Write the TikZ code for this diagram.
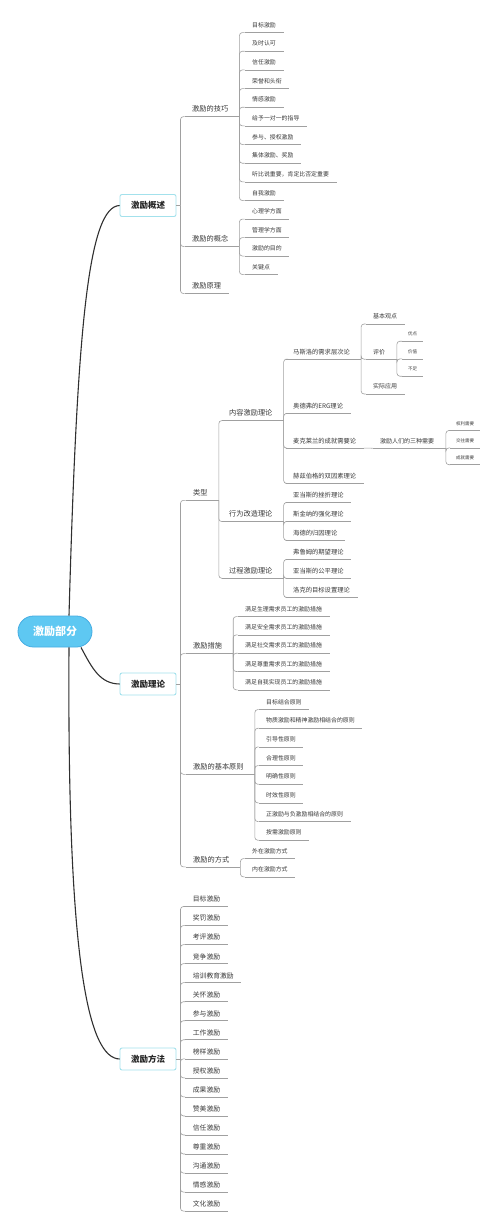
\documentclass[tikz,border=0pt]{standalone}
\usepackage{fontspec}
\setmainfont{Noto Sans CJK SC}
\definecolor{linec}{HTML}{A0A0A0}
\definecolor{txt}{HTML}{3A3A3A}
\definecolor{rootfill}{HTML}{5EC8F2}
\definecolor{rootdraw}{HTML}{45ACE2}
\definecolor{boxdraw}{HTML}{A3E1EC}
\definecolor{maincol}{HTML}{303030}
\begin{document}
\begin{tikzpicture}[x=1pt,y=-1pt,
  base/.style={anchor=west, inner xsep=7.5pt, text=txt},
  tA/.style={base, font=\fontsize{7.2}{8}\selectfont, text height=6.3pt, text depth=0.9pt, inner ysep=3.8pt},
  tM/.style={base, font=\fontsize{6.8}{8}\selectfont, text height=6pt, text depth=0.8pt, inner ysep=3.6pt},
  tB/.style={base, font=\fontsize{6.3}{7}\selectfont, text height=5.55pt, text depth=0.75pt, inner ysep=4.1pt},
  tC/.style={base, font=\fontsize{6}{7}\selectfont, text height=5.3pt, text depth=0.7pt, inner ysep=4.3pt},
  tS/.style={base, font=\fontsize{5.9}{7}\selectfont, text height=5.2pt, text depth=0.7pt, inner ysep=4.4pt},
  tD/.style={base, inner xsep=6pt, font=\fontsize{4.5}{5}\selectfont, text height=4pt, text depth=0.5pt, inner ysep=4.75pt},
  ul/.style={draw=linec, line width=0.6pt},
  br/.style={draw=linec, line width=0.6pt, rounded corners=3pt},
  mainline/.style={draw=maincol, line width=1.1pt},
  lvbox/.style={draw=boxdraw, line width=0.9pt, fill=white, rounded corners=2pt, minimum width=56pt, minimum height=22pt, inner sep=0pt, text=black!85, font=\fontsize{8.5}{10}\selectfont\bfseries},
  rootbox/.style={fill=rootfill, draw=rootdraw, line width=0.8pt, rounded corners=15.5pt, minimum width=74pt, minimum height=31pt, inner sep=0pt, text=white, font=\fontsize{11}{13}\selectfont\bfseries}
]
\fill[white] (0,0) rectangle (500,1229);
\useasboundingbox (0,0) rectangle (500,1229);

% root
\node[rootbox] (root) at (55,631.5) {激励部分};
\coordinate (b1p) at (120,205.5);
\coordinate (b2p) at (120,684);
\coordinate (b3p) at (120,1059);
\draw[mainline] ([xshift=14pt]root.north) .. controls (77,330) and (88,205.5) .. (b1p);
\draw[mainline] ([xshift=26pt]root.south) .. controls (92,668) and (100,684) .. (b2p);
\draw[mainline] ([xshift=14pt]root.south) .. controls (67,960) and (88,1059) .. (b3p);
\node[lvbox] (b1) at (148,205.5) {激励概述};
\node[lvbox] (b2) at (148,684) {激励理论};
\node[lvbox] (b3) at (148,1059) {激励方法};
\foreach \b in {b1,b2,b3} {
  \coordinate (\b f) at ([xshift=4pt]\b.east);
  \draw[br] (\b.east) -- (\b f);
}

% ===== 激励概述 =====
\node[tA] (a1) at (184.5,109) {激励的技巧};
\node[tA] (a2) at (184.5,239) {激励的概念};
\node[tA] (a3) at (184.5,286) {激励原理};
\foreach \n in {a1,a2,a3} {
  \draw[ul] (\n.south west) -- (\n.south east);
  \draw[br] (b1f) |- (\n.south west);
}
\coordinate (a1f) at ([xshift=3.5pt]a1.south east);
\draw[br] (a1.south east) -- (a1f);
\foreach \t [count=\i from 0] in {目标激励,及时认可,信任激励,荣誉和头衔,情感激励,给予一对一的指导,参与、授权激励,集体激励、奖励,听比说重要，肯定比否定重要,自我激励} {
  \node[tS] (sA\i) at (244.5,{25+18.67*\i}) {\t};
  \draw[ul] (sA\i.south west) -- (sA\i.south east);
  \draw[br] (a1f) |- (sA\i.south west);
}
\coordinate (a2f) at ([xshift=3.5pt]a2.south east);
\draw[br] (a2.south east) -- (a2f);
\foreach \t [count=\i from 0] in {心理学方面,管理学方面,激励的目的,关键点} {
  \node[tS] (sB\i) at (244.5,{211.5+18.5*\i}) {\t};
  \draw[ul] (sB\i.south west) -- (sB\i.south east);
  \draw[br] (a2f) |- (sB\i.south west);
}

% ===== 激励理论 =====
\node[tA] (ty) at (185.5,492.7) {类型};
\node[tA] (cs) at (185.5,646) {激励措施};
\node[tA] (yz) at (185.5,766.7) {激励的基本原则};
\node[tA] (fs) at (185.5,859.3) {激励的方式};
\foreach \n in {ty,cs,yz,fs} {
  \draw[ul] (\n.south west) -- (\n.south east);
  \draw[br] (b2f) |- (\n.south west);
  \coordinate (\n f) at ([xshift=3.5pt]\n.south east);
  \draw[br] (\n.south east) -- (\n f);
}
\node[tA] (nr) at (221.5,413) {内容激励理论};
\node[tA] (xw) at (221.5,514) {行为改造理论};
\node[tA] (gc) at (221.5,570.7) {过程激励理论};
\foreach \n in {nr,xw,gc} {
  \draw[ul] (\n.south west) -- (\n.south east);
  \draw[br] (tyf) |- (\n.south west);
  \coordinate (\n f) at ([xshift=3.5pt]\n.south east);
  \draw[br] (\n.south east) -- (\n f);
}
% 内容激励理论
\node[tB] (ms) at (285.5,351.7) {马斯洛的需求层次论};
\node[tB] (ed) at (285.5,406) {奥德弗的ERG理论};
\node[tB] (mk) at (285.5,440.7) {麦克莱兰的成就需要论};
\node[tB] (hz) at (285.5,476) {赫兹伯格的双因素理论};
\foreach \n in {ms,ed,mk,hz} {
  \draw[ul] (\n.south west) -- (\n.south east);
  \draw[br] (nrf) |- (\n.south west);
}
\coordinate (msf) at ([xshift=3.5pt]ms.south east);
\draw[br] (ms.south east) -- (msf);
\node[tC] (jb) at (365.5,316.5) {基本观点};
\node[tC] (pj) at (365.5,351.7) {评价};
\node[tC] (sy) at (365.5,386.5) {实际应用};
\foreach \n in {jb,pj,sy} {
  \draw[ul] (\n.south west) -- (\n.south east);
  \draw[br] (msf) |- (\n.south west);
}
\coordinate (pjf) at ([xshift=4pt]pj.south east);
\draw[br] (pj.south east) -- (pjf);
\node[tD] (yd) at (402,334) {优点};
\node[tD] (jz) at (402,351.7) {价值};
\node[tD] (bz) at (402,369) {不足};
\foreach \n in {yd,jz,bz} {
  \draw[ul] (\n.south west) -- (\n.south east);
  \draw[br] (pjf) |- (\n.south west);
}
\node[tC] (sz) at (372.5,440.7) {激励人们的三种需要};
\draw[ul] (sz.south west) -- (sz.south east);
\draw[br] (mk.south east) -- (sz.south west);
\coordinate (szf) at ([xshift=4pt]sz.south east);
\draw[br] (sz.south east) -- (szf);
\node[tD] (ql) at (450,423.3) {权利需要};
\node[tD] (jw) at (450,440.7) {交往需要};
\node[tD] (cj) at (450,457.5) {成就需要};
\foreach \n in {ql,jw,cj} {
  \draw[ul] (\n.south west) -- (\n.south east);
  \draw[br] (szf) |- (\n.south west);
}
% 行为改造理论
\foreach \t [count=\i from 0] in {亚当斯的挫折理论,斯金纳的强化理论,海德的归因理论} {
  \node[tB] (xw\i) at (285.5,{495+19*\i}) {\t};
  \draw[ul] (xw\i.south west) -- (xw\i.south east);
  \draw[br] (xwf) |- (xw\i.south west);
}
% 过程激励理论
\foreach \t [count=\i from 0] in {弗鲁姆的期望理论,亚当斯的公平理论,洛克的目标设置理论} {
  \node[tB] (gc\i) at (285.5,{552+19*\i}) {\t};
  \draw[ul] (gc\i.south west) -- (gc\i.south east);
  \draw[br] (gcf) |- (gc\i.south west);
}
% 激励措施
\foreach \t [count=\i from 0] in {满足生理需求员工的激励措施,满足安全需求员工的激励措施,满足社交需求员工的激励措施,满足尊重需求员工的激励措施,满足自我实现员工的激励措施} {
  \node[tS] (cs\i) at (237.5,{609+18.33*\i}) {\t};
  \draw[ul] (cs\i.south west) -- (cs\i.south east);
  \draw[br] (csf) |- (cs\i.south west);
}
% 激励的基本原则
\foreach \t [count=\i from 0] in {目标结合原则,物质激励和精神激励相结合的原则,引导性原则,合理性原则,明确性原则,时效性原则,正激励与负激励相结合的原则,按需激励原则} {
  \node[tS] (yz\i) at (258.5,{702+18.67*\i}) {\t};
  \draw[ul] (yz\i.south west) -- (yz\i.south east);
  \draw[br] (yzf) |- (yz\i.south west);
}
% 激励的方式
\foreach \t [count=\i from 0] in {外在激励方式,内在激励方式} {
  \node[tS] (fs\i) at (244.5,{851+18.3*\i}) {\t};
  \draw[ul] (fs\i.south west) -- (fs\i.south east);
  \draw[br] (fsf) |- (fs\i.south west);
}

% ===== 激励方法 =====
\foreach \t [count=\i from 0] in {目标激励,奖罚激励,考评激励,竞争激励,培训教育激励,关怀激励,参与激励,工作激励,榜样激励,授权激励,成果激励,赞美激励,信任激励,尊重激励,沟通激励,情感激励,文化激励} {
  \node[tM] (ff\i) at (185.2,{899.3+19.04*\i}) {\t};
  \draw[ul] (ff\i.south west) -- (ff\i.south east);
  \draw[br] (b3f) |- (ff\i.south west);
}
\end{tikzpicture}
\end{document}
